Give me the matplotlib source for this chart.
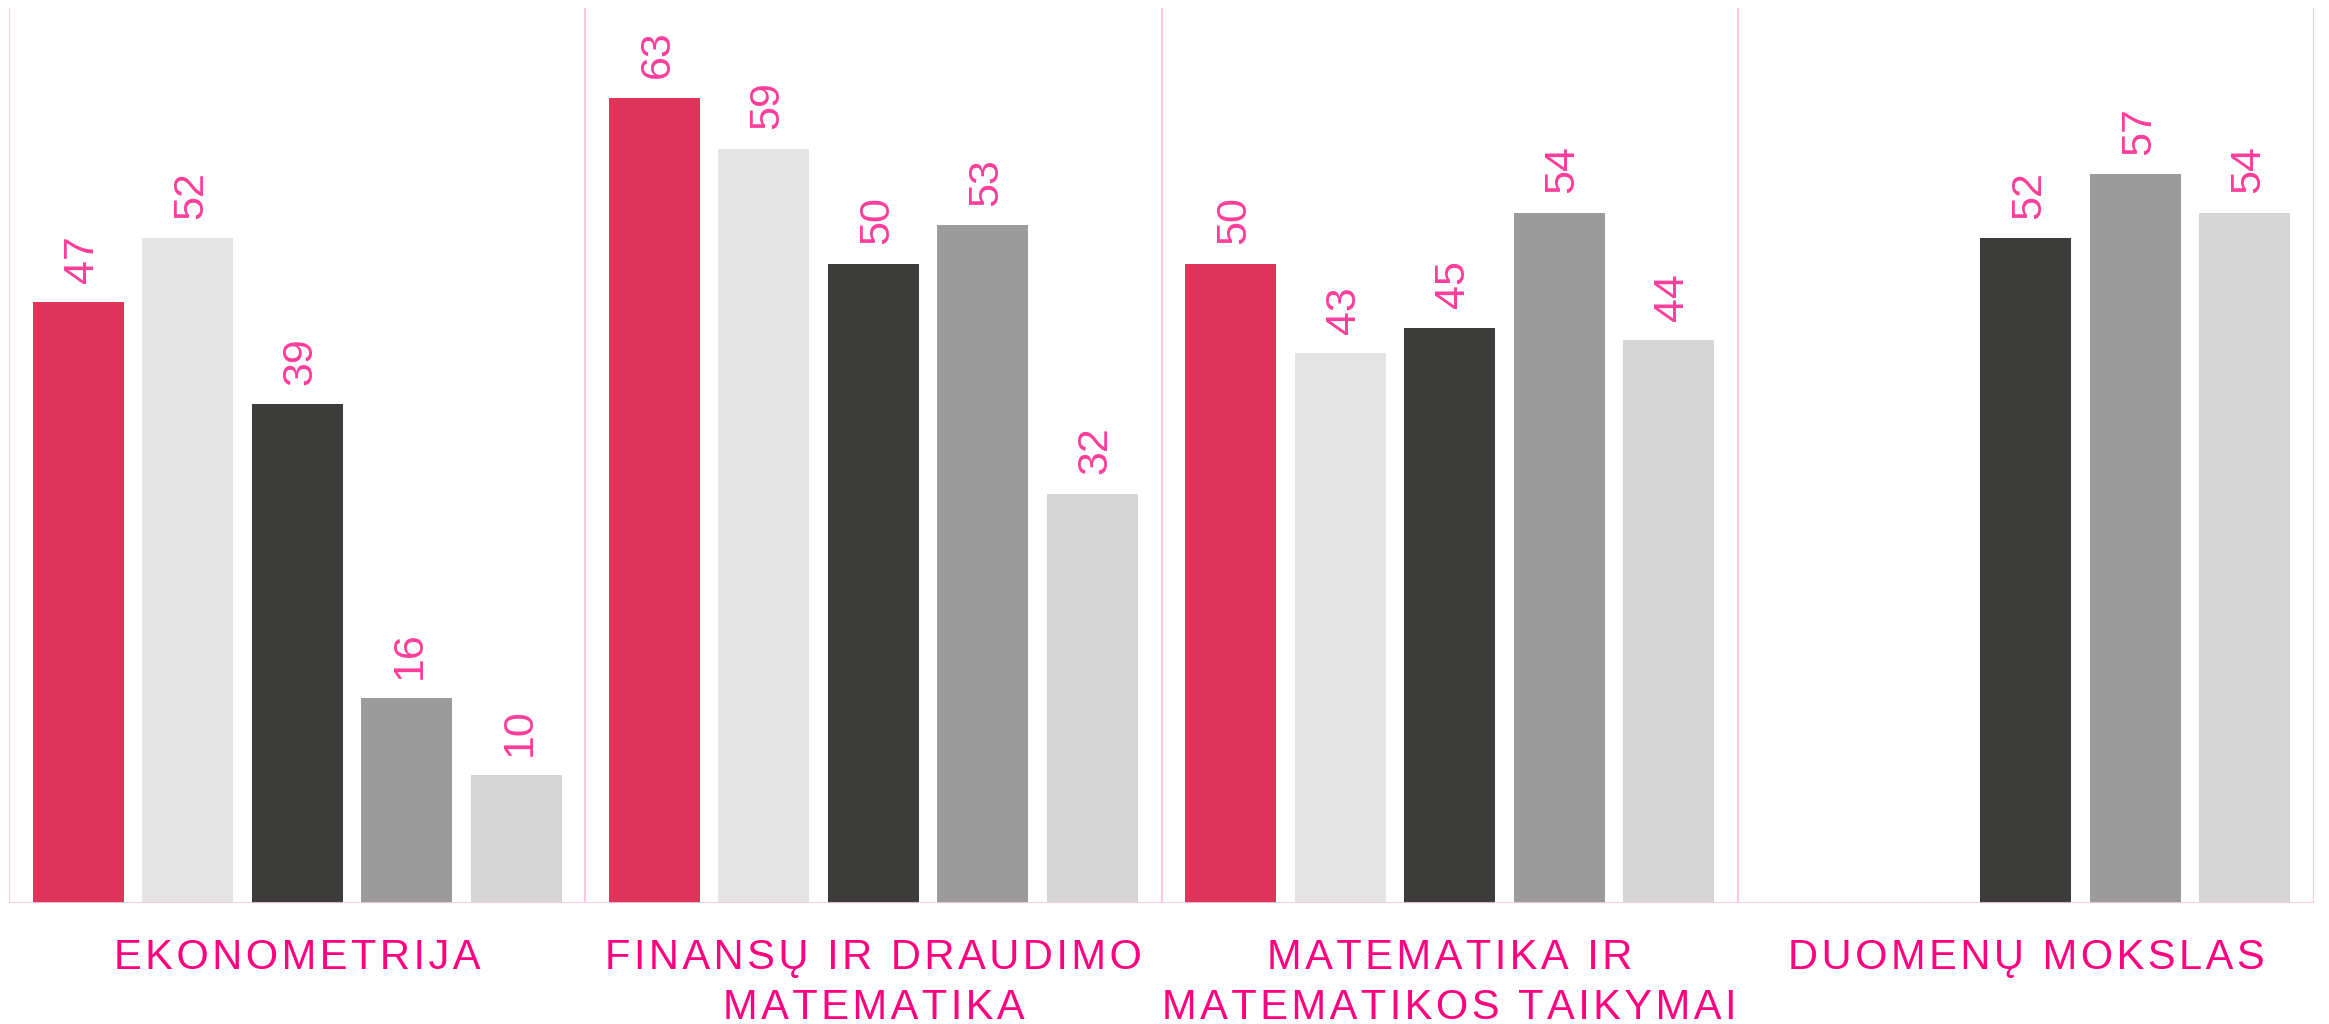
import numpy as np
import matplotlib.pyplot as plt

# programos ir rodikliai
programos = ["EKONOMETRIJA", "FINANSŲ IR DRAUDIMO\nMATEMATIKA",
             "MATEMATIKA IR\nMATEMATIKOS TAIKYMAI", "DUOMENŲ MOKSLAS"]
serija1 = [47, 63, 50, None]
serija2 = [52, 59, 43, None]
serija3 = [39, 50, 45, 52]
serija4 = [16, 53, 54, 57]
serija5 = [10, 32, 44, 54]

series = [serija1, serija2, serija3, serija4, serija5]
colors = ["#e0335a", "#e3e3e3", "#3c3c3a", "#9b9b9b", "#d5d5d5"]

plt.rcParams['font.family'] = ['Liberation Sans', 'DejaVu Sans']


def spaced(s):
    # platesni tarpai tarp raidziu (hair space)
    return "\n".join("\u200a".join(line) for line in s.split("\n"))


fig = plt.figure(figsize=(23.29, 10.24), dpi=100)
ax = fig.add_axes([9/2329, 1 - 903/1024, 2305/2329, 895/1024])

step = 0.19
width = 0.158
for j, (vals, c) in enumerate(zip(series, colors)):
    for i, v in enumerate(vals):
        if v is None:
            continue
        x = i + 0.5 + (j - 2) * step
        ax.bar(x, v, width=width, color=c, edgecolor='none', zorder=2)
        ax.annotate(str(v), xy=(x, v), xytext=(2.5, 14), textcoords='offset points',
                    rotation=90, ha='center', va='bottom', fontsize=31,
                    color='#ff3d9a')

pink = '#ffc8e0'
for k in range(len(programos) + 1):
    ax.axvline(k, color=pink, lw=1.5, zorder=1)
ax.axhline(0, color=pink, lw=2, zorder=3)

for i, name in enumerate(programos):
    ax.annotate(spaced(name), xy=(i + 0.5, 0), xytext=(0, -25), textcoords='offset points',
                ha='center', va='top', multialignment='center', fontsize=30,
                color='#ff0080', linespacing=1.32, annotation_clip=False)

ax.set_xlim(0, 4)
ax.set_ylim(0, 70)
ax.set_xticks([])
ax.set_yticks([])
for s in ax.spines.values():
    s.set_visible(False)

fig.savefig("out.png", dpi=100)
